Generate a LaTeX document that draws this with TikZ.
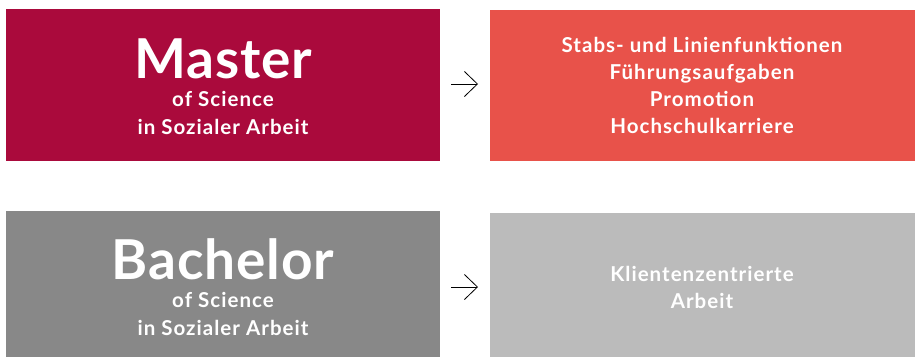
\documentclass[tikz,border=0pt]{standalone}
\usepackage{fontspec}
\setmainfont{Lato}
\newfontfamily\subfont[LetterSpace=5]{Lato}
\newfontfamily\bigfont[LetterSpace=1.5]{Lato}
\usetikzlibrary{arrows.meta}
\definecolor{masterred}{HTML}{AA0A3C}
\definecolor{jobred}{HTML}{E8524A}
\definecolor{bachgray}{HTML}{888888}
\definecolor{jobgray}{HTML}{BBBBBB}
\tikzset{
  box/.style={inner sep=0pt, minimum width=#1},
  big/.style={text=white, anchor=base, font=\bigfont\fontsize{55}{55}\selectfont\bfseries},
  sub/.style={text=white, anchor=base, font=\subfont\fontsize{20.5}{20.5}\selectfont\bfseries},
  arr/.style={-{Straight Barb[length=13pt,width=25pt]}, line width=0.8pt}
}
\begin{document}
\begin{tikzpicture}[x=1pt,y=-1pt]
    \useasboundingbox (0,0) rectangle (915,357);
    % boxes
    \node[box=434pt, minimum height=152pt, fill=masterred] (M) at (223,85)  {};
    \node[box=425pt, minimum height=151pt, fill=jobred]    (J) at (702.5,85.5) {};
    \node[box=434pt, minimum height=146pt, fill=bachgray]  (B) at (223,284) {};
    \node[box=425pt, minimum height=144pt, fill=jobgray]   (K) at (702.5,285) {};

    % left texts
    \node[big] (Mt) at (223,78)  {Master};
    \node[sub] (M1) at (223,106) {of Science};
    \node[sub] (M2) at (223,134) {in Sozialer Arbeit};
    \node[big] (Bt) at (223,279) {Bachelor};
    \node[sub] (B1) at (223,307) {of Science};
    \node[sub] (B2) at (223,335) {in Sozialer Arbeit};

    % right texts
    \node[sub] (J1) at (702,52)  {Stabs- und Linienfunktionen};
    \node[sub] (J2) at (702,79)  {Führungsaufgaben};
    \node[sub] (J3) at (702,106) {Promotion};
    \node[sub] (J4) at (702,133) {Hochschulkarriere};
    \node[sub] (K1) at (702,281) {Klientenzentrierte};
    \node[sub] (K2) at (702,308) {Arbeit};

    \coordinate (a1) at (451,84);
    \coordinate (a2) at (478,84);
    \coordinate (b1) at (451,287);
    \coordinate (b2) at (478,287);
    \draw[arr] (a1) -- (a2);
    \draw[arr] (b1) -- (b2);
\end{tikzpicture}
\end{document}
